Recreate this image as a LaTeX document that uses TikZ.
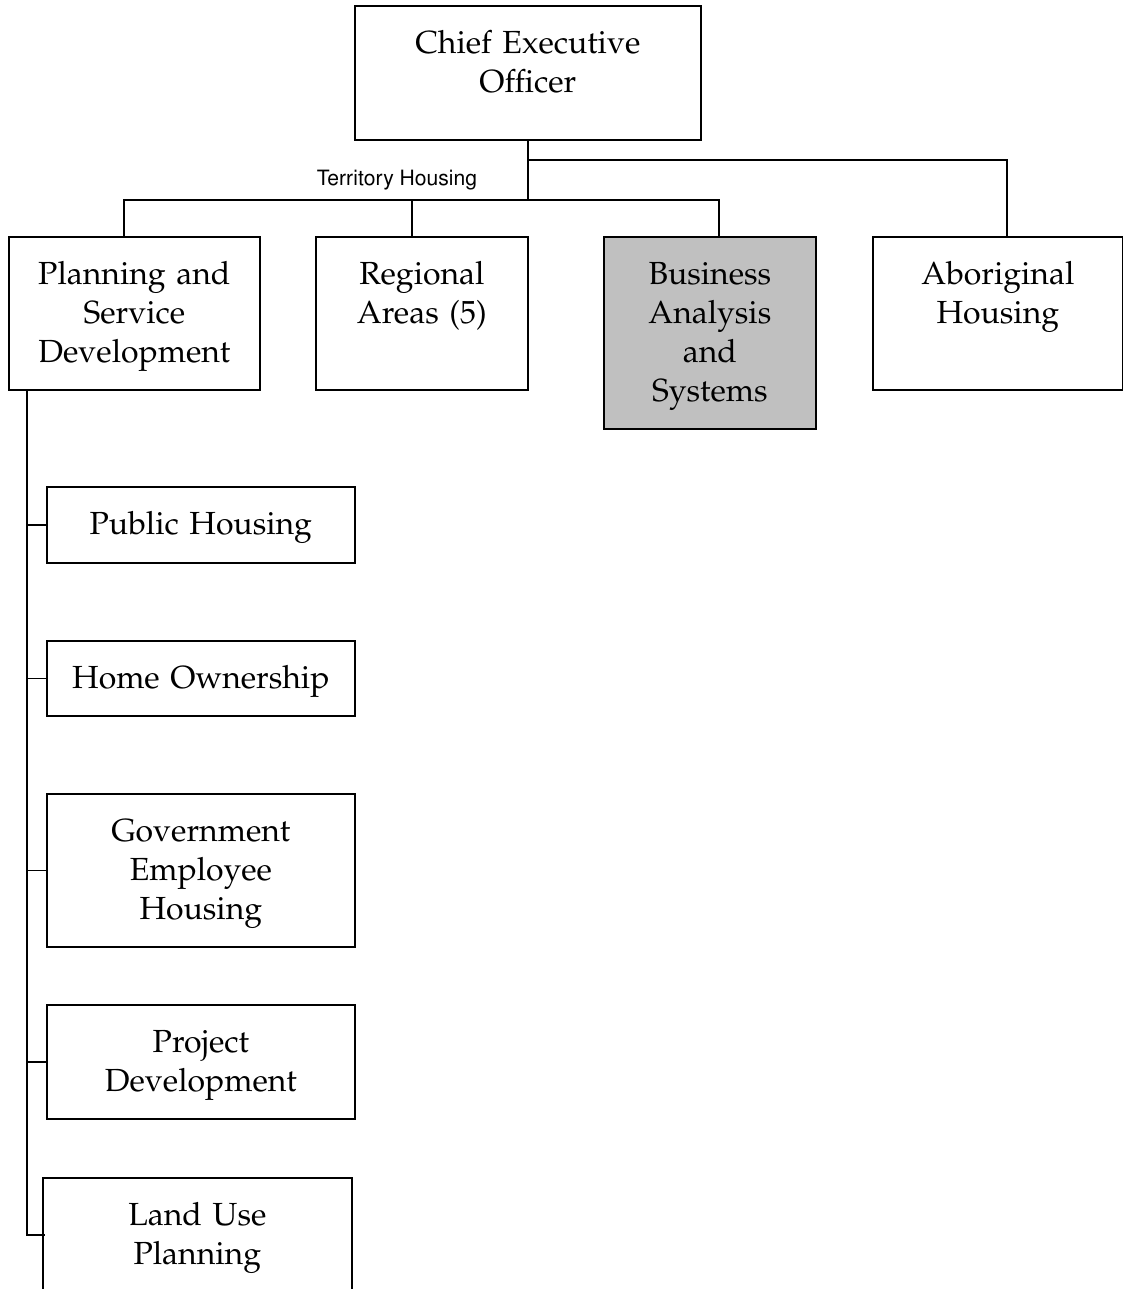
\documentclass[tikz,border=0pt]{standalone}
\usepackage[T1]{fontenc}
\usepackage{mathpazo}
\usepackage{helvet}
\definecolor{bizgray}{RGB}{192,192,192}
\tikzset{
  orgbox/.style={draw, line width=1pt, anchor=north west, inner sep=0pt,
    align=center, text height=0.96cm, font=\fontsize{18.2}{22.2}\selectfont},
  link/.style={line width=0.9pt},
  tag/.style={font=\sffamily\fontsize{12}{14}\selectfont, inner sep=0pt}
}
\begin{document}
\begin{tikzpicture}[x=0.02cm, y=-0.02cm]
        \useasboundingbox (0,0) rectangle (1123,1289);
        % top level
        \node[orgbox, text width=6.92cm, text depth=1.72cm] (ceo) at (354,5) {Chief Executive\\Officer};
        % divisions
        \node[orgbox, text width=5.02cm, text depth=2.10cm] (plan) at (8,236) {Planning and\\Service\\Development};
        \node[orgbox, text width=4.24cm, text depth=2.10cm] (reg) at (315,236) {Regional\\Areas (5)};
        \node[orgbox, fill=bizgray, text width=4.24cm, text depth=2.88cm] (bas) at (603,236) {Business\\Analysis\\and\\Systems};
        \node[orgbox, text width=5.00cm, text depth=2.10cm] (abo) at (872,236) {Aboriginal\\Housing};
        % sections under planning
        \node[orgbox, text width=6.16cm, text depth=0.56cm] (pub) at (46,486) {Public Housing};
        \node[orgbox, text width=6.16cm, text depth=0.54cm] (home) at (46,640) {Home Ownership};
        \node[orgbox, text width=6.16cm, text depth=2.10cm] (gov) at (46,793) {Government\\Employee\\Housing};
        \node[orgbox, text width=6.16cm, text depth=1.32cm] (proj) at (46,1004) {Project\\Development};
        \node[orgbox, text width=6.18cm, text depth=1.32cm] (land) at (42,1177) {Land Use\\Planning};
        \node[tag] (th) at (397,180) {Territory Housing};
        % connectors
        \coordinate (fork) at ([yshift=-0.38cm]ceo.south);
        \coordinate (hub) at ([yshift=-1.18cm]ceo.south);
        \coordinate (spine) at (27,389);
        \draw[link] (ceo.south) -- (hub);
        \draw[link] (fork) -| ([xshift=0.18cm]abo.north);
        \draw[link] ([xshift=-0.21cm]plan.north) |- (hub) -| ([xshift=0.18cm]bas.north);
        \draw[link] ([xshift=-0.2cm]reg.north) -- ([xshift=-0.2cm]reg.north |- hub);
        \draw[link] (spine) |- ([xshift=0.06cm]land.west);
        \foreach \n in {pub,home,gov,proj}
            \draw[link] (\n.west) -- (\n.west -| spine);
    \end{tikzpicture}
\end{document}
